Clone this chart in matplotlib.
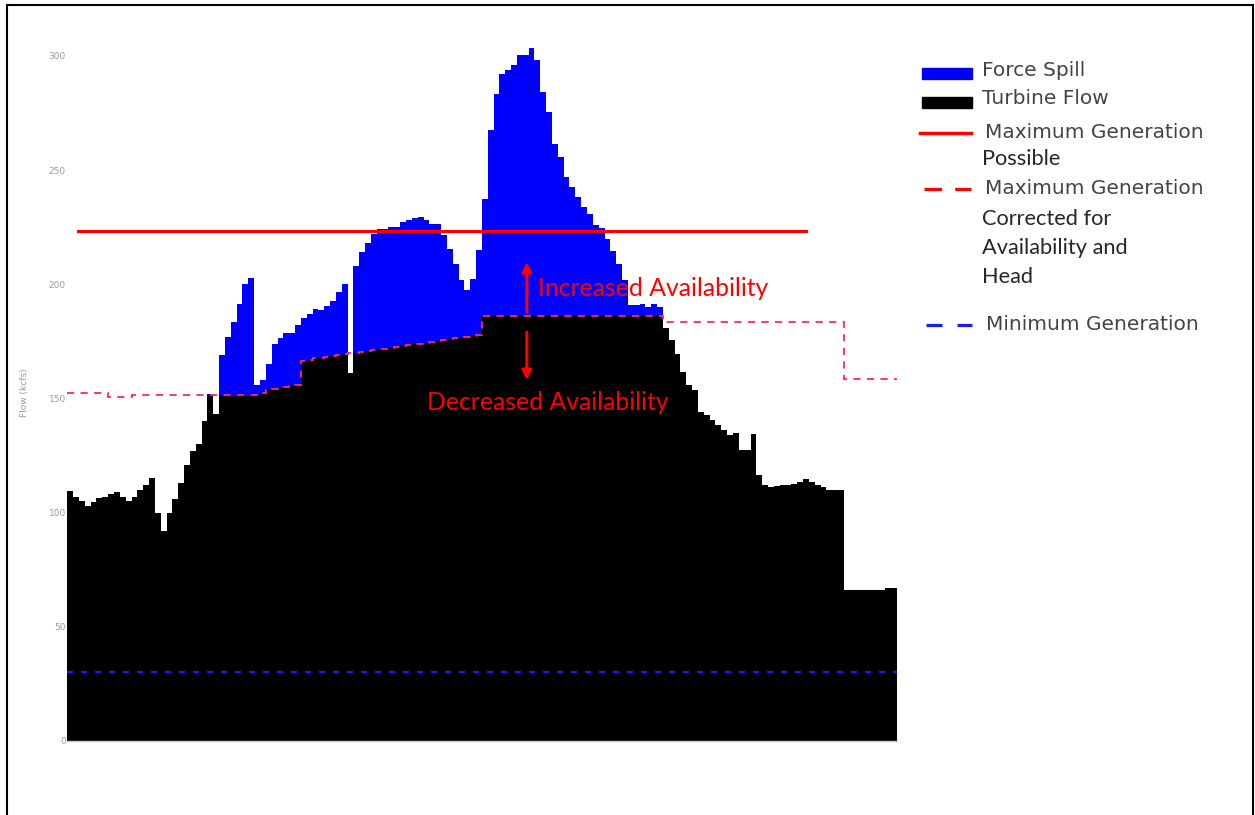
import numpy as np
import matplotlib.pyplot as plt
from matplotlib.lines import Line2D
from matplotlib.patches import Rectangle

# daily total river flow (kcfs)
total_flow = [
    109.5, 107, 105, 103, 104.5, 106.5, 107, 108, 109, 107,
    105, 107, 110, 112, 115, 100, 92, 100, 106, 113,
    121, 127, 130, 140, 152, 143, 169, 177, 183.5, 191.5,
    200, 202.5, 155.7, 158, 165, 174, 176.6, 178.6, 178.6, 182,
    185.3, 187, 189.3, 188.5, 190.3, 192.6, 196.6, 200, 161, 208,
    214, 218, 222, 224, 224, 225, 225, 227.2, 228.2, 228.8,
    229.4, 228, 226.5, 226.5, 221.6, 215.5, 208.7, 202, 197.3, 202.4,
    214.8, 237.4, 267.6, 283.3, 292, 294, 296, 300.5, 300.5, 303.4,
    298, 284, 275.3, 261.5, 255.6, 247, 242.5, 238, 234, 230.8,
    226, 224.4, 220, 214.5, 209, 202, 190.7, 190.7, 191.5, 190,
    191.2, 189.8, 181, 175.4, 169.6, 161.5, 155.7, 153.5, 144, 142.6,
    140.4, 138.2, 136, 133.9, 134.9, 127.3, 127.3, 134.6, 116.4, 112,
    111.3, 111.6, 112, 112.3, 112.7, 113.4, 114.5, 113.4, 112, 111,
    110.1, 110.1, 110, 66, 66, 66, 66, 66, 66, 66,
    67, 67,
]

# maximum generation corrected for availability and head (kcfs)
max_gen_corrected = (
    [152.2] * 7 + [150.8] * 4 + [151.5] * 14 + [151.6] * 8
    + [152.5, 153.5, 154, 154.5, 155, 155.5, 156]
    + [166.5, 167, 167.5, 167.8, 168.2, 168.6, 169, 169.4, 169.7, 170,
       170.4, 170.8, 171.1, 171.5, 171.8, 172.2, 172.5, 172.9, 173.3, 173.6,
       174, 174.4, 174.7, 175.1, 175.5, 175.9, 176.3, 176.6, 177, 177.4,
       177.8]
    + [186.2] * 31 + [183.5] * 31 + [158.3] * 9
)

max_gen_possible = 223.3
max_gen_possible_span = (1.3, 126.0)   # day index range of the drawn line
min_generation = 30.0

y_ticks = [0, 50, 100, 150, 200, 250, 300]

total = np.array(total_flow)
cap = np.array(max_gen_corrected)
turbine = np.minimum(total, cap)
spill = total - turbine
days = np.arange(len(total))

fig = plt.figure(figsize=(12.55, 8.15), dpi=100)
ax = fig.add_axes([67.3 / 1255, 1 - 741 / 815, 829.2 / 1255, 305 * 2.284 / 815])

ax.bar(days, turbine, width=1.0, color='black', linewidth=0, zorder=2)
ax.bar(days, spill, bottom=turbine, width=1.0, color='#0000ff', linewidth=0, zorder=2)

ax.stairs(cap, np.arange(len(cap) + 1) - 0.5, baseline=None,
          color='#ff2a55', linestyle=(0, (4, 3.5)), linewidth=1.3, zorder=3)
ax.axhline(min_generation, color='#1a1aff', linestyle=(0, (2.7, 3.6)),
           linewidth=1.6, zorder=3)
ax.plot(max_gen_possible_span, [max_gen_possible] * 2, color='#ff0000',
        linewidth=2.3, zorder=4)

# availability arrows
ax.annotate('', xy=(78.2, 209.7), xytext=(78.2, 187.8),
            arrowprops=dict(arrowstyle='-|>', color='#ff0000', lw=2.2,
                            mutation_scale=14, shrinkA=0, shrinkB=0), zorder=5)
ax.annotate('', xy=(78.2, 158.0), xytext=(78.2, 179.0),
            arrowprops=dict(arrowstyle='-|>', color='#ff0000', lw=2.2,
                            mutation_scale=14, shrinkA=0, shrinkB=0), zorder=5)
ax.text(80.1, 197.9, 'Increased Availability', color='#ff0000', fontsize=17.8,
        family='Lato', va='center', ha='left', zorder=5)
ax.text(61.1, 148.4, 'Decreased Availability', color='#ff0000', fontsize=17.8,
        family='Lato', va='center', ha='left', zorder=5)

ax.set_xlim(-0.5, len(total) - 0.5)
ax.set_ylim(0, 305)
ax.set_yticks(y_ticks)
ax.set_xticks([])
ax.tick_params(axis='y', length=0, pad=1, labelsize=6.5, labelcolor='#9a9a9a')
ax.set_ylabel('Flow (kcfs)', fontsize=6.5, color='#9a9a9a', labelpad=14)
for side in ['left', 'right', 'top']:
    ax.spines[side].set_visible(False)
ax.spines['bottom'].set_color('#c8c8c8')
ax.spines['bottom'].set_linewidth(1.0)


def fx(px):
    return px / 1255


def fy(py):
    return 1 - py / 815


# legend, built by hand to follow the slide layout
fig.add_artist(Rectangle((fx(922), fy(79)), fx(50), 11 / 815, color='#0000ff',
                         transform=fig.transFigure))
fig.add_artist(Rectangle((fx(922), fy(108)), fx(50), 11 / 815, color='black',
                         transform=fig.transFigure))
fig.add_artist(Line2D([fx(920), fx(971)], [fy(133)] * 2, color='#ff0000',
                      linewidth=2.5, transform=fig.transFigure))
fig.add_artist(Line2D([fx(924), fx(971)], [fy(189)] * 2, color='#ff0000',
                      linewidth=2.3, linestyle=(0, (5.5, 4.1)),
                      transform=fig.transFigure))
fig.add_artist(Line2D([fx(926), fx(972)], [fy(325)] * 2, color='#1a1aff',
                      linewidth=2.3, linestyle=(0, (5.0, 4.7)),
                      transform=fig.transFigure))

wide = dict(family='DejaVu Sans', fontsize=14.5, color='#444444', va='center', ha='left')
narrow = dict(family='Lato', fontsize=15.7, color='#262626', va='center', ha='left')
fig.text(fx(982), fy(71), 'Force Spill', **wide)
fig.text(fx(982), fy(99), 'Turbine Flow', **wide)
fig.text(fx(985), fy(132), 'Maximum Generation', **wide)
fig.text(fx(982), fy(159), 'Possible', **narrow)
fig.text(fx(985), fy(188), 'Maximum Generation', **wide)
fig.text(fx(982), fy(219), 'Corrected for', **narrow)
fig.text(fx(982), fy(248), 'Availability and', **narrow)
fig.text(fx(982), fy(277), 'Head', **narrow)
fig.text(fx(986), fy(325), 'Minimum Generation', **wide)

# slide frame
fig.add_artist(Rectangle((fx(7), -0.02), fx(1246), 1.02 - 5 / 815, fill=False,
                         edgecolor='black', linewidth=1.5,
                         transform=fig.transFigure))

fig.savefig('out.png', dpi=100)
